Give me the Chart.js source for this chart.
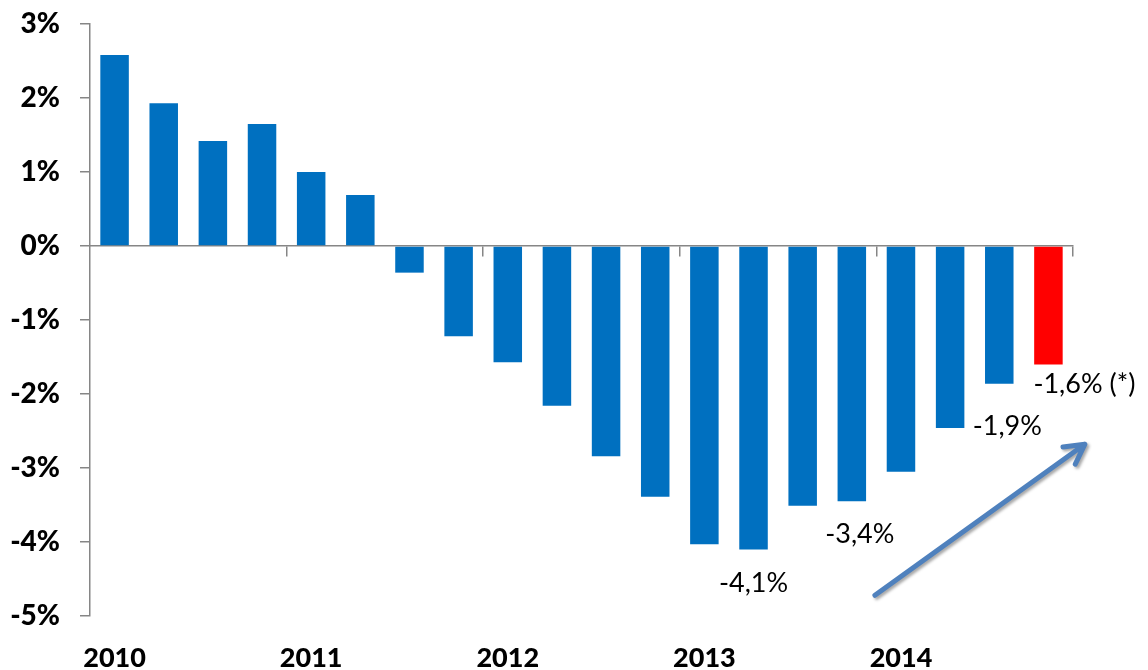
<!DOCTYPE html>
<html>
<head>
<meta charset="utf-8">
<script src="https://cdn.jsdelivr.net/npm/chart.js@4/dist/chart.umd.min.js"></script>
<style>
  html, body { margin: 0; padding: 0; background: #fff; }
  #wrap { width: 1148px; height: 670px; }
</style>
</head>
<body>
<div id="wrap"><canvas id="myChart" width="1148" height="670"></canvas></div>
<script>
// quarterly values, 2010 Q1 .. 2014 Q4
const quarters = [
  "2010 T1", "2010 T2", "2010 T3", "2010 T4",
  "2011 T1", "2011 T2", "2011 T3", "2011 T4",
  "2012 T1", "2012 T2", "2012 T3", "2012 T4",
  "2013 T1", "2013 T2", "2013 T3", "2013 T4",
  "2014 T1", "2014 T2", "2014 T3", "2014 T4"
];
const values = [
  2.58, 1.93, 1.42, 1.65,
  1.0, 0.69, -0.36, -1.22,
  -1.57, -2.16, -2.84, -3.39,
  -4.03, -4.1, -3.51, -3.45,
  -3.05, -2.46, -1.86, -1.6
];
const yearLabels = [
  "2010", "", "", "",
  "2011", "", "", "",
  "2012", "", "", "",
  "2013", "", "", "",
  "2014", "", "", ""
];
const barLabels = [
  null, null, null, null, null, null, null, null, null, null,
  null, null, null, "-4,1%", null, "-3,4%", null, null, "-1,9%", "-1,6% (*)"
];
const yTicks = [-5, -4, -3, -2, -1, 0, 1, 2, 3];

const blue = "#0070C0";
const red = "#FF0000";
const axisGray = "#868686";

// label placement relative to the bar end (px)
const labelOffsets = {
  13: { dx: 0, dy: 34, align: "center" },
  15: { dx: 8, dy: 33, align: "center" },
  18: { dx: 8, dy: 43, align: "center" },
  19: { dx: -15, dy: 20, align: "left" }
};

const labelPlugin = {
  id: "barLabels",
  afterDatasetsDraw(chart) {
    const ctx = chart.ctx;
    const meta = chart.getDatasetMeta(0);
    ctx.save();
    ctx.font = "27px Lato";
    ctx.fillStyle = "#000";
    ctx.textBaseline = "middle";
    barLabels.forEach((txt, i) => {
      if (!txt) return;
      const bar = meta.data[i];
      const o = labelOffsets[i];
      ctx.textAlign = o.align;
      ctx.fillText(txt, bar.x + o.dx, bar.y + o.dy);
    });
    ctx.restore();
  }
};

// trend arrow, anchored in data space
const arrowFrom = { x: 15.47, y: -4.72 };
const arrowTo = { x: 19.74, y: -2.68 };

const arrowPlugin = {
  id: "trendArrow",
  afterDraw(chart) {
    const { ctx, scales } = chart;
    const x1 = scales.x.getPixelForValue(arrowFrom.x);
    const y1 = scales.y.getPixelForValue(arrowFrom.y);
    const x2 = scales.x.getPixelForValue(arrowTo.x);
    const y2 = scales.y.getPixelForValue(arrowTo.y);
    const ang = Math.atan2(y2 - y1, x2 - x1);
    const head = 22;
    ctx.save();
    ctx.strokeStyle = "#4F81BD";
    ctx.lineWidth = 5;
    ctx.lineCap = "round";
    ctx.lineJoin = "round";
    ctx.shadowColor = "rgba(0,0,0,0.35)";
    ctx.shadowBlur = 3;
    ctx.shadowOffsetX = 2;
    ctx.shadowOffsetY = 2;
    ctx.beginPath();
    ctx.moveTo(x1, y1);
    ctx.lineTo(x2, y2);
    ctx.moveTo(x2 - head * Math.cos(ang - 0.5), y2 - head * Math.sin(ang - 0.5));
    ctx.lineTo(x2, y2);
    ctx.lineTo(x2 - head * Math.cos(ang + 0.5), y2 - head * Math.sin(ang + 0.5));
    ctx.stroke();
    ctx.restore();
  }
};

new Chart(document.getElementById("myChart"), {
  type: "bar",
  data: {
    labels: quarters,
    datasets: [{
      data: values,
      backgroundColor: values.map((v, i) => (i === values.length - 1 ? red : blue)),
      borderWidth: 0,
      barPercentage: 0.58,
      categoryPercentage: 1.0
    }]
  },
  options: {
    responsive: false,
    animation: false,
    layout: { padding: { top: 24, right: 75, bottom: 0, left: 0 } },
    plugins: { legend: { display: false }, tooltip: { enabled: false } },
    scales: {
      x: {
        grid: { display: false },
        border: { display: false },
        ticks: {
          autoSkip: false,
          maxRotation: 0,
          padding: 18,
          color: "#000",
          font: { family: "Lato", size: 27, weight: "900" },
          callback: (v, i) => yearLabels[i]
        },
        afterFit: (s) => { s.height = 54; s.paddingTop = 0; s.paddingBottom = 0; }
      },
      x2: {
        type: "category",
        labels: quarters,
        position: { y: 0 },
        offset: true,
        grid: {
          offset: true,
          drawOnChartArea: false,
          tickLength: 10,
          lineWidth: 1.5,
          color: (c) => (c.index === undefined || (c.index > 0 && c.index % 4 === 0)) ? axisGray : "rgba(0,0,0,0)"
        },
        border: { color: axisGray, width: 1.5 },
        ticks: { display: false },
        afterFit: (s) => { s.paddingTop = 0; s.paddingBottom = 0; }
      },
      y: {
        min: -5,
        max: 3,
        afterBuildTicks: (s) => { s.ticks = yTicks.map((v) => ({ value: v })); },
        ticks: {
          padding: 20,
          color: "#000",
          font: { family: "Lato", size: 28, weight: "900" },
          callback: (v) => v + "%"
        },
        grid: { drawOnChartArea: false, color: axisGray, tickLength: 10, lineWidth: 1.5 },
        border: { color: axisGray, width: 1.5 },
        afterFit: (s) => { s.width = 90; s.paddingTop = 0; s.paddingBottom = 0; }
      }
    }
  },
  plugins: [labelPlugin, arrowPlugin]
});
</script>
</body>
</html>
